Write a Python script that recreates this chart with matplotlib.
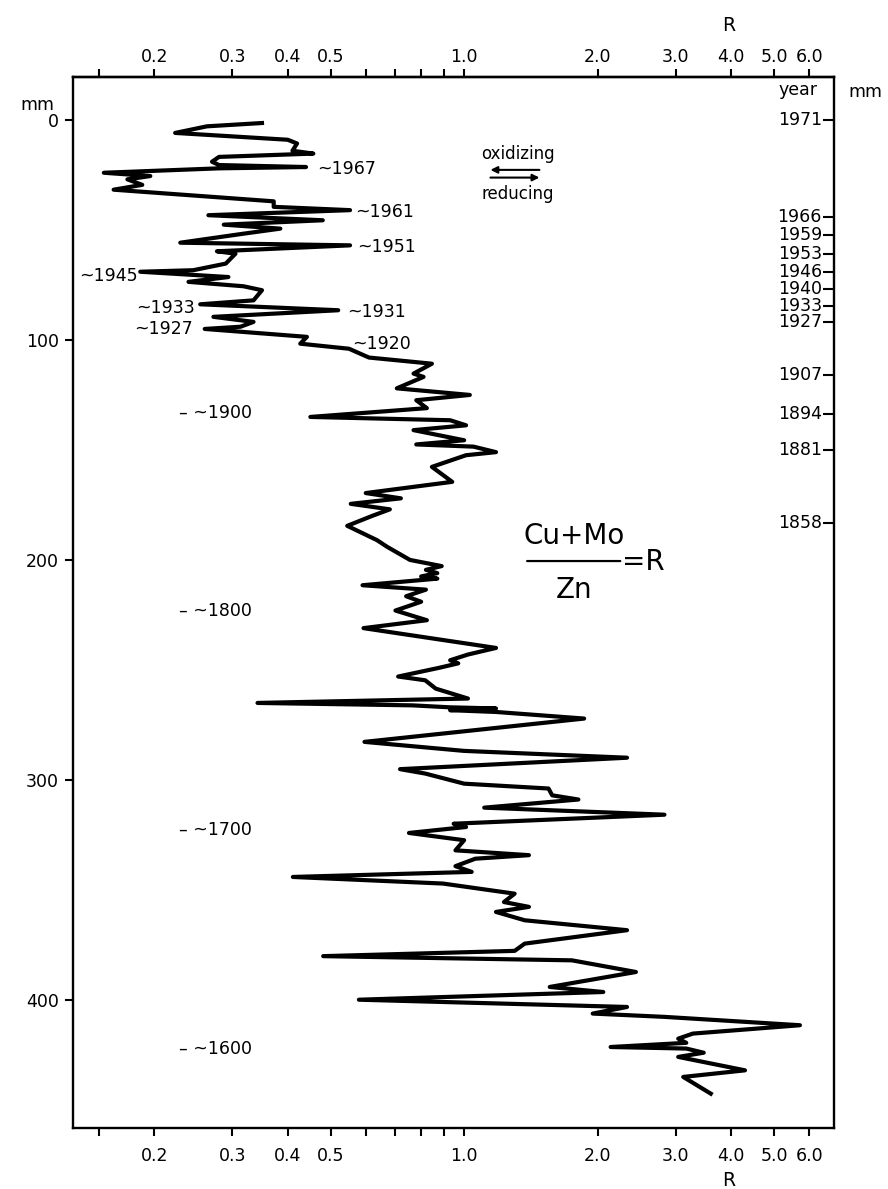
import matplotlib
matplotlib.use('Agg')
import matplotlib.pyplot as plt
import matplotlib.transforms as mtransforms
from matplotlib import font_manager
from matplotlib.ticker import NullLocator

plt.rcParams['font.family'] = ['DejaVu Sans']

# depth below sediment surface (mm) and R = (Cu+Mo)/Zn
depth_mm = [1.4, 2.9, 5.9, 9.0, 10.7, 14.0, 15.3, 16.8, 19.0, 20.5,
            21.4, 22.0, 24.0, 25.5, 27.0, 29.5, 31.7, 37.0, 39.5, 41.0,
            43.3, 45.6, 47.6, 49.4, 51.7, 55.8, 57.0, 59.7, 60.8, 65.3,
            68.3, 69.0, 71.4, 73.6, 75.6, 77.4, 82.0, 83.8, 86.5, 89.5,
            91.8, 94.0, 95.0, 98.6, 101.7, 104.0, 108.0, 110.8, 115.3, 116.8,
            122.0, 125.0, 127.4, 131.0, 135.0, 136.5, 138.8, 141.0, 145.6, 147.5,
            148.5, 151.0, 152.4, 157.7, 164.5, 169.6, 172.0, 174.5, 177.0, 180.0,
            184.5, 191.0, 194.0, 200.0, 202.8, 204.5, 206.0, 207.5, 208.5, 211.5,
            213.5, 216.5, 219.0, 223.0, 227.4, 231.0, 240.0, 243.0, 245.6, 247.0,
            249.0, 253.0, 254.7, 258.5, 263.0, 265.0, 266.1, 267.0, 267.5, 268.3,
            269.1, 272.1, 282.7, 286.8, 289.9, 295.1, 297.1, 301.7, 303.9, 307.0,
            308.9, 312.6, 315.8, 319.9, 321.4, 324.1, 327.4, 332.0, 334.2, 335.8,
            339.2, 341.8, 344.1, 347.1, 351.7, 355.5, 357.7, 360.0, 363.8, 368.3,
            374.4, 377.7, 380.1, 382.0, 387.3, 394.1, 396.4, 399.9, 403.2, 406.2,
            407.7, 411.5, 415.3, 417.6, 419.5, 421.4, 422.1, 424.0, 425.9, 432.0,
            435.0, 442.6]
ratio_r = [0.35, 0.263, 0.223, 0.40, 0.42, 0.41, 0.457, 0.28, 0.27, 0.28,
           0.44, 0.28, 0.154, 0.196, 0.174, 0.188, 0.162, 0.372, 0.372, 0.553,
           0.265, 0.48, 0.287, 0.385, 0.318, 0.229, 0.553, 0.277, 0.305, 0.29,
           0.245, 0.186, 0.294, 0.239, 0.318, 0.35, 0.335, 0.254, 0.52, 0.272,
           0.335, 0.313, 0.26, 0.442, 0.427, 0.55, 0.61, 0.846, 0.769, 0.81,
           0.705, 1.03, 0.78, 0.824, 0.45, 0.93, 1.01, 0.769, 1.0, 0.78,
           1.05, 1.18, 1.01, 0.846, 0.94, 0.60, 0.72, 0.555, 0.68, 0.62,
           0.545, 0.636, 0.67, 0.755, 0.89, 0.82, 0.87, 0.80, 0.87, 0.59,
           0.82, 0.74, 0.80, 0.70, 0.824, 0.593, 1.18, 1.02, 0.93, 0.97,
           0.88, 0.71, 0.817, 0.863, 1.02, 0.342, 0.765, 0.93, 1.18, 0.93,
           1.18, 1.865, 0.596, 1.0, 2.33, 0.717, 0.817, 1.0, 1.55, 1.58,
           1.81, 1.11, 2.83, 0.947, 1.01, 0.751, 1.0, 0.956, 1.40, 1.06,
           0.956, 1.04, 0.411, 0.896, 1.30, 1.23, 1.40, 1.18, 1.37, 2.33,
           1.37, 1.30, 0.481, 1.75, 2.44, 1.56, 2.06, 0.579, 2.33, 1.95,
           2.83, 5.72, 3.28, 3.04, 3.17, 2.14, 3.17, 3.47, 3.04, 4.30,
           3.12, 3.6]

r_ticks = [0.15, 0.2, 0.3, 0.4, 0.5, 0.6, 0.7, 0.8, 0.9, 1.0, 2.0, 3.0, 4.0, 5.0, 6.0]
r_ticklabels = ['', '0.2', '0.3', '0.4', '0.5', '', '', '', '', '1.0',
                '2.0', '3.0', '4.0', '5.0', '6.0']
mm_ticks = [0, 100, 200, 300, 400]

# dated horizons on the right-hand scale
year_depth = [0, 44, 52.5, 61, 69, 77, 84.5, 92, 116, 133.5, 150, 183]
year_labels = ['1971', '1966', '1959', '1953', '1946', '1940', '1933', '1927',
               '1907', '1894', '1881', '1858']

# approximate ages written inside the plot
age_text = ['~1967', '~1961', '~1951', '~1931', '~1920']
age_text_r = [0.466, 0.568, 0.574, 0.545, 0.559]
age_text_mm = [22.3, 42.0, 57.9, 87.5, 101.8]
age_left = ['~1945', '~1933', '~1927']
age_left_r = [0.184, 0.247, 0.245]
age_left_mm = [70.8, 85.3, 95.0]
century_text = ['– ~1900', '– ~1800', '– ~1700', '– ~1600']
century_mm = [133.2, 223.0, 322.7, 422.3]

# narrow face for the big formula if there is one
try:
    font_manager.findfont(font_manager.FontProperties(family='Liberation Sans Narrow'),
                          fallback_to_default=False)
    formula_font, formula_size = 'Liberation Sans Narrow', 26
except ValueError:
    formula_font, formula_size = 'DejaVu Sans', 20

fs = 12.5
fig = plt.figure(figsize=(8.88, 11.89), dpi=100)
ax = fig.add_axes([0.0819, 0.0517, 0.8574, 0.8835])

ax.plot(ratio_r, depth_mm, color='black', lw=3.0, solid_joinstyle='round')

ax.set_xscale('log')
ax.set_xlim(0.131, 6.83)
ax.set_ylim(458, -19.5)

for s in ax.spines.values():
    s.set_linewidth(1.7)

ax.set_xticks(r_ticks)
ax.set_xticklabels(r_ticklabels)
ax.xaxis.set_minor_locator(NullLocator())
ax.tick_params(axis='x', which='major', direction='out', length=6, width=1.5,
               labelsize=fs, pad=8, bottom=True, top=False)

top = ax.secondary_xaxis('top')
top.set_xticks(r_ticks)
top.set_xticklabels(r_ticklabels)
top.xaxis.set_minor_locator(NullLocator())
top.tick_params(axis='x', which='major', direction='out', length=6, width=1.5,
                labelsize=fs, pad=2)
top.spines['top'].set_linewidth(1.7)

ax.set_yticks(mm_ticks)
ax.tick_params(axis='y', direction='out', length=6, width=1.5, labelsize=fs,
               pad=4, left=True, right=True, labelleft=True, labelright=True)

# year scale: inward ticks on the right edge
yr = ax.twinx()
yr.set_ylim(ax.get_ylim())
yr.set_yticks(year_depth)
yr.set_yticklabels([''] * len(year_depth))
yr.tick_params(axis='y', direction='in', length=8, width=1.5)
for s in yr.spines.values():
    s.set_visible(False)

tr_year = mtransforms.blended_transform_factory(ax.transAxes, ax.transData)
for lab, d in zip(year_labels, year_depth):
    ax.text(0.984, d, lab, transform=tr_year, ha='right', va='center', fontsize=fs)

ax.text(0.953, 0.988, 'year', transform=ax.transAxes, ha='center', va='center', fontsize=fs)
ax.text(1.041, 0.986, 'mm', transform=ax.transAxes, ha='center', va='center', fontsize=fs)
ax.text(-0.047, 0.973, 'mm', transform=ax.transAxes, ha='center', va='center', fontsize=fs)
ax.text(0.861, 1.049, 'R', transform=ax.transAxes, ha='center', va='center', fontsize=fs + 1)
ax.text(0.861, -0.05, 'R', transform=ax.transAxes, ha='center', va='center', fontsize=fs + 1)

for lab, r, d in zip(age_text, age_text_r, age_text_mm):
    ax.text(r, d, lab, ha='left', va='center', fontsize=fs)
for lab, r, d in zip(age_left, age_left_r, age_left_mm):
    ax.text(r, d, lab, ha='right', va='center', fontsize=fs)
for lab, d in zip(century_text, century_mm):
    ax.text(0.227, d, lab, ha='left', va='center', fontsize=fs)

# redox direction arrows
ax.text(1.32, 15.5, 'oxidizing', ha='center', va='center', fontsize=fs - 0.5)
ax.text(1.32, 33.6, 'reducing', ha='center', va='center', fontsize=fs - 0.5)
ax.annotate('', xy=(1.13, 22.7), xytext=(1.50, 22.7),
            arrowprops=dict(arrowstyle='-|>', color='black', lw=1.5, mutation_scale=10))
ax.annotate('', xy=(1.50, 26.2), xytext=(1.13, 26.2),
            arrowprops=dict(arrowstyle='-|>', color='black', lw=1.5, mutation_scale=10))

# formula (Cu+Mo)/Zn = R
ax.text(1.77, 189.0, 'Cu+Mo', ha='center', va='center', fontsize=formula_size,
        family=formula_font)
ax.text(1.77, 213.5, 'Zn', ha='center', va='center', fontsize=formula_size,
        family=formula_font)
ax.annotate('', xy=(1.387, 200.5), xytext=(2.25, 200.5),
            arrowprops=dict(arrowstyle='-', color='black', lw=1.6, shrinkA=0, shrinkB=0))
ax.text(2.27, 201.0, '=R', ha='left', va='center', fontsize=formula_size,
        family=formula_font)

fig.savefig('out.png', dpi=100)
